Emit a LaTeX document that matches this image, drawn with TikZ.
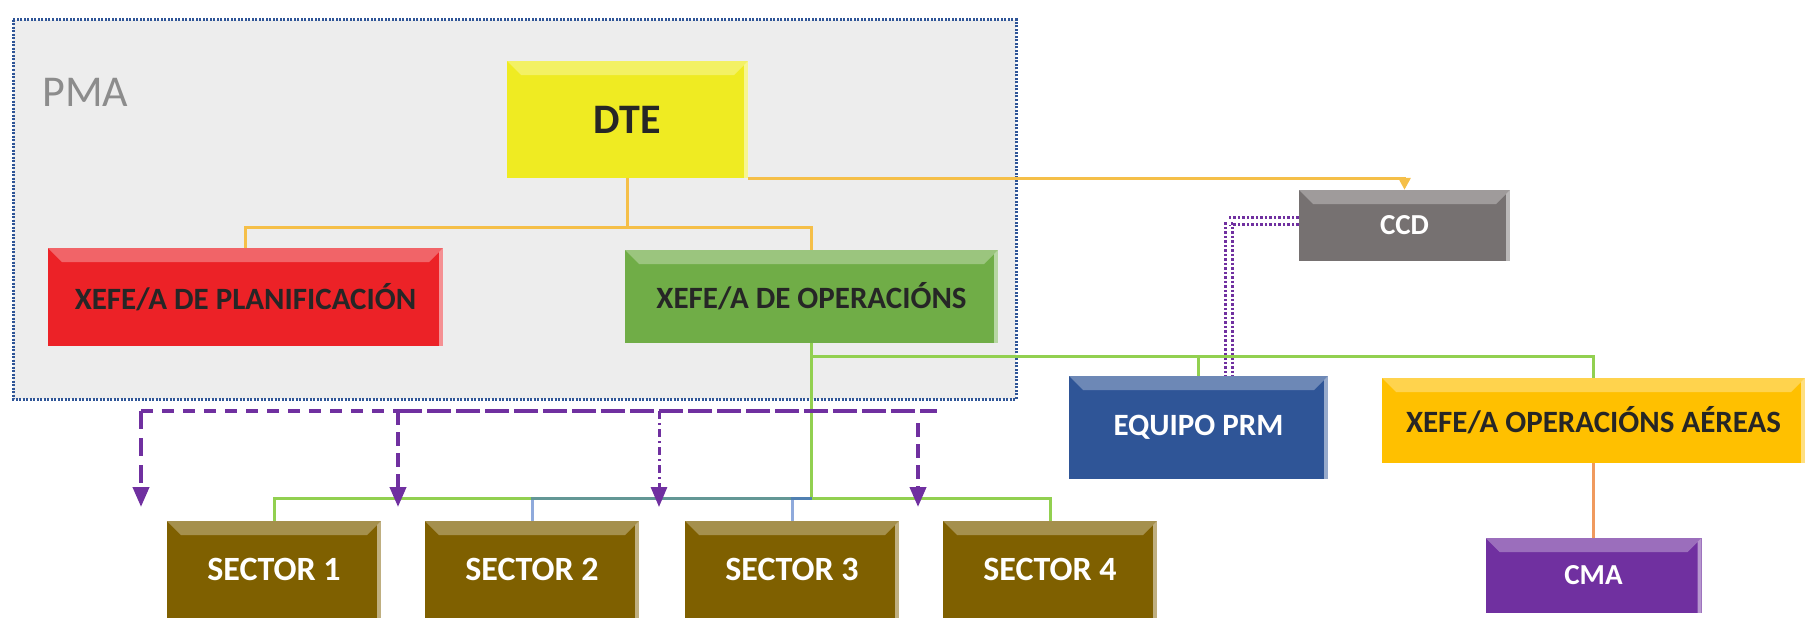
\documentclass[tikz,border=0pt]{standalone}
\usepackage{fontspec}
\setmainfont{Carlito}
\usetikzlibrary{arrows.meta}

\definecolor{pmafill}{HTML}{EDEDED}
\definecolor{pmaline}{HTML}{2F5597}
\definecolor{pmatext}{HTML}{8C8C8C}
\definecolor{dtecol}{HTML}{EFEB22}
\definecolor{plancol}{HTML}{EC2227}
\definecolor{opercol}{HTML}{70AD47}
\definecolor{ccdcol}{HTML}{767171}
\definecolor{prmcol}{HTML}{2F5597}
\definecolor{aereascol}{HTML}{FFC000}
\definecolor{cmacol}{HTML}{7030A0}
\definecolor{sectorcol}{HTML}{7F6000}
\definecolor{darktext}{HTML}{262626}
\definecolor{linkorange}{HTML}{F5BF48}
\definecolor{linkgreen}{HTML}{92D050}
\definecolor{linkblue}{HTML}{4472C4}
\definecolor{linkcma}{HTML}{F09A5E}
\definecolor{linkpurple}{HTML}{7030A0}

\tikzset{
  orgbox/.style={rectangle, fill=#1, inner sep=0pt, text=darktext,
    font=\fontsize{31}{36}\selectfont\bfseries,
    path picture={
      \fill[white, opacity=0.3] (path picture bounding box.north west) -- (path picture bounding box.north east)
        -- ([xshift=-14pt,yshift=-14pt]path picture bounding box.north east) -- ([xshift=14pt,yshift=-14pt]path picture bounding box.north west) -- cycle;
      \fill[white, opacity=0.5] (path picture bounding box.north east) -- (path picture bounding box.south east)
        -- ([xshift=-4pt]path picture bounding box.south east) -- ([xshift=-4pt,yshift=-4pt]path picture bounding box.north east) -- cycle;
    }},
  sectorbox/.style={orgbox=sectorcol, text=white, minimum width=214pt, minimum height=97pt,
    font=\fontsize{34}{40}\selectfont\bfseries},
  orangelink/.style={draw=linkorange, line width=3pt},
  greenlink/.style={draw=linkgreen, line width=3pt},
  bluelink/.style={draw=linkblue, line width=3pt, opacity=0.6},
  purplelink/.style={draw=linkpurple, line width=4pt},
  purplearrow/.style={purplelink, -{Triangle[width=16pt,length=20pt]}},
}

\begin{document}
\begin{tikzpicture}[x=1pt,y=-1pt]
	\useasboundingbox (0,0) rectangle (1814,618);
	\draw[fill=pmafill, draw=pmaline, line width=3pt, dash pattern=on 2pt off 1.5pt] (13,20) rectangle (1016,399);
	\node[text=pmatext, font=\fontsize{44}{50}\selectfont, anchor=base west] (pmatitle) at (39,106) {PMA};

	\node[orgbox=dtecol, minimum width=241pt, minimum height=117pt, font=\fontsize{42}{48}\selectfont\bfseries] (dte) at (627.5,119.5) {DTE};
	\node[orgbox=plancol, minimum width=395pt, minimum height=98pt] (plan) at (245.5,297) {XEFE/A DE PLANIFICACIÓN};
	\node[orgbox=opercol, minimum width=373pt, minimum height=93pt] (oper) at (811.5,296.5) {XEFE/A DE OPERACIÓNS};
	\node[orgbox=ccdcol, text=white, minimum width=211pt, minimum height=71pt, font=\fontsize{29}{34}\selectfont\bfseries] (ccd) at (1404.5,225.5) {CCD};
	\node[orgbox=prmcol, text=white, minimum width=259pt, minimum height=103pt] (prm) at (1198.5,427.5) {EQUIPO PRM};
	\node[orgbox=aereascol, minimum width=423pt, minimum height=85pt] (aereas) at (1593.5,420.5) {XEFE/A OPERACIÓNS AÉREAS};
	\node[orgbox=cmacol, text=white, minimum width=216pt, minimum height=75pt, font=\fontsize{29}{34}\selectfont\bfseries] (cma) at (1593.5,575.5) {CMA};

	\node[sectorbox] (s1) at (274,569.5) {SECTOR 1};
	\node[sectorbox] (s2) at (532,569.5) {SECTOR 2};
	\node[sectorbox] (s3) at (792,569.5) {SECTOR 3};
	\node[sectorbox] (s4) at (1050,569.5) {SECTOR 4};

	% DTE links
	\draw[orangelink] (dte.south) -- ++(0,49) -| (plan.north);
	\draw[orangelink] (dte.south) ++(0,49) -| (oper.north);
	\draw[orangelink, -{Triangle[width=12pt,length=12pt]}] (dte.south east) -| (ccd.north);

	% CCD to PRM
	\draw[draw=linkpurple, line width=3pt, double=white, double distance=4pt, dash pattern=on 2.5pt off 2pt] ([yshift=5pt]ccd.west) -| ([xshift=30pt]prm.north);

	% operations links
	\draw[greenlink] (oper.south) ++(0,13) -| (aereas.north);
	\draw[greenlink] (oper.south) ++(0,13) -| (prm.north);
	\draw[greenlink] (oper.south) -- ++(0,155) -| (s1.north);
	\draw[greenlink] (oper.south) ++(0,155) -| (s4.north);
	\draw[bluelink] (oper.south) ++(0,155) -| (s2.north);
	\draw[bluelink] (oper.south) ++(0,155) -| (s3.north);
	\draw[draw=linkcma, line width=3pt] (aereas.south) -- (cma.north);

	% purple dashed arrows
	\coordinate (h0) at (141,411);
	\coordinate (h1) at (398,411);
	\coordinate (h2) at (659,411);
	\coordinate (h3) at (937,411);
	\coordinate (h4) at (918,423);
	\draw[purplelink, dash pattern=on 12pt off 9pt] (h0) -- (h1);
	\draw[purplelink, dash pattern=on 24pt off 5pt] (h1) -- (h3);
	\draw[purplearrow, dash pattern=on 18pt off 9pt] (h0) -- (141,507) coordinate (tip1);
	\draw[purplearrow, dash pattern=on 14pt off 7pt] (h1) -- (398,507) coordinate (tip2);
	\draw[purplearrow, line width=3pt, dash pattern=on 8pt off 4pt on 2pt off 4pt] (h2) -- (659,507) coordinate (tip3);
	\draw[purplearrow, dash pattern=on 14pt off 7pt] (h4) -- (918,507) coordinate (tip4);
\end{tikzpicture}
\end{document}
